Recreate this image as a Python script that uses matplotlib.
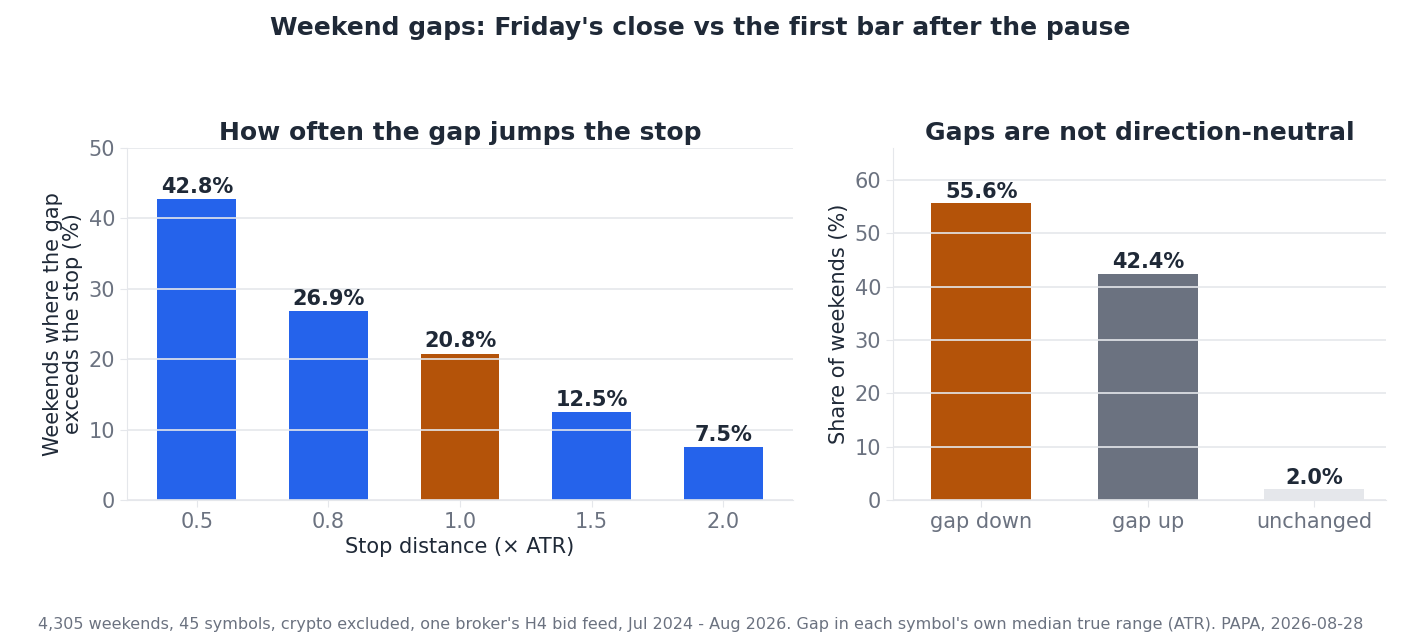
import matplotlib
matplotlib.use("Agg")
import matplotlib.pyplot as plt

stops = ["0.5", "0.8", "1.0", "1.5", "2.0"]
jump_pct = [42.8, 26.9, 20.8, 12.5, 7.5]
stop_colors = ["#2563eb", "#2563eb", "#b45309", "#2563eb", "#2563eb"]

directions = ["gap down", "gap up", "unchanged"]
dir_pct = [55.6, 42.4, 2.0]
dir_colors = ["#b45309", "#6b7280", "#e5e7eb"]

dark = "#1f2937"
grey = "#6b7280"
gridc = "#e5e7eb"

fig = plt.figure(figsize=(14.01, 6.43), dpi=100)
ax1 = fig.add_axes([127/1401, 143/643, 666/1401, 352/643])
ax2 = fig.add_axes([893/1401, 143/643, 493/1401, 352/643])

def style(ax):
    for s in ["top", "right"]:
        ax.spines[s].set_visible(False)
    for s in ["left", "bottom"]:
        ax.spines[s].set_color(gridc)
    ax.tick_params(colors=grey, labelsize=15, length=5)
    ax.tick_params(axis="both", color=gridc)
    ax.grid(axis="y", color=gridc, linewidth=1.2)
    ax.set_axisbelow(False)

b = ax1.bar(stops, jump_pct, color=stop_colors, width=0.6)
ax1.set_ylim(0, 50)
ax1.set_xlim(-0.53, 4.53)
style(ax1)
for rect, v in zip(b, jump_pct):
    ax1.text(rect.get_x() + rect.get_width()/2, v + 0.3, f"{v}%", ha="center", va="bottom",
             fontsize=15, fontweight="bold", color=dark)
ax1.set_title("How often the gap jumps the stop", fontsize=18, fontweight="bold", color=dark)
ax1.set_xlabel("Stop distance (× ATR)", fontsize=15, color=dark)
ax1.set_ylabel("Weekends where the gap\nexceeds the stop (%)", fontsize=15, color=dark, linespacing=1.0)

b2 = ax2.bar(directions, dir_pct, color=dir_colors, width=0.6)
ax2.set_ylim(0, 66)
ax2.set_xlim(-0.53, 2.43)
style(ax2)
for rect, v in zip(b2, dir_pct):
    ax2.text(rect.get_x() + rect.get_width()/2, v + 0.3, f"{v}%", ha="center", va="bottom",
             fontsize=15, fontweight="bold", color=dark)
ax2.set_title("Gaps are not direction-neutral", fontsize=18, fontweight="bold", color=dark)
ax2.set_ylabel("Share of weekends (%)", fontsize=15, color=dark)

fig.suptitle("Weekend gaps: Friday's close vs the first bar after the pause", fontsize=18,
             fontweight="bold", color=dark, y=0.975)
fig.text(0.5, 0.022, "4,305 weekends, 45 symbols, crypto excluded, one broker's H4 bid feed, Jul 2024 - Aug 2026. "
         "Gap in each symbol's own median true range (ATR). PAPA, 2026-08-28",
         ha="center", fontsize=11.5, color=grey)

fig.savefig("out.png", dpi=100)
